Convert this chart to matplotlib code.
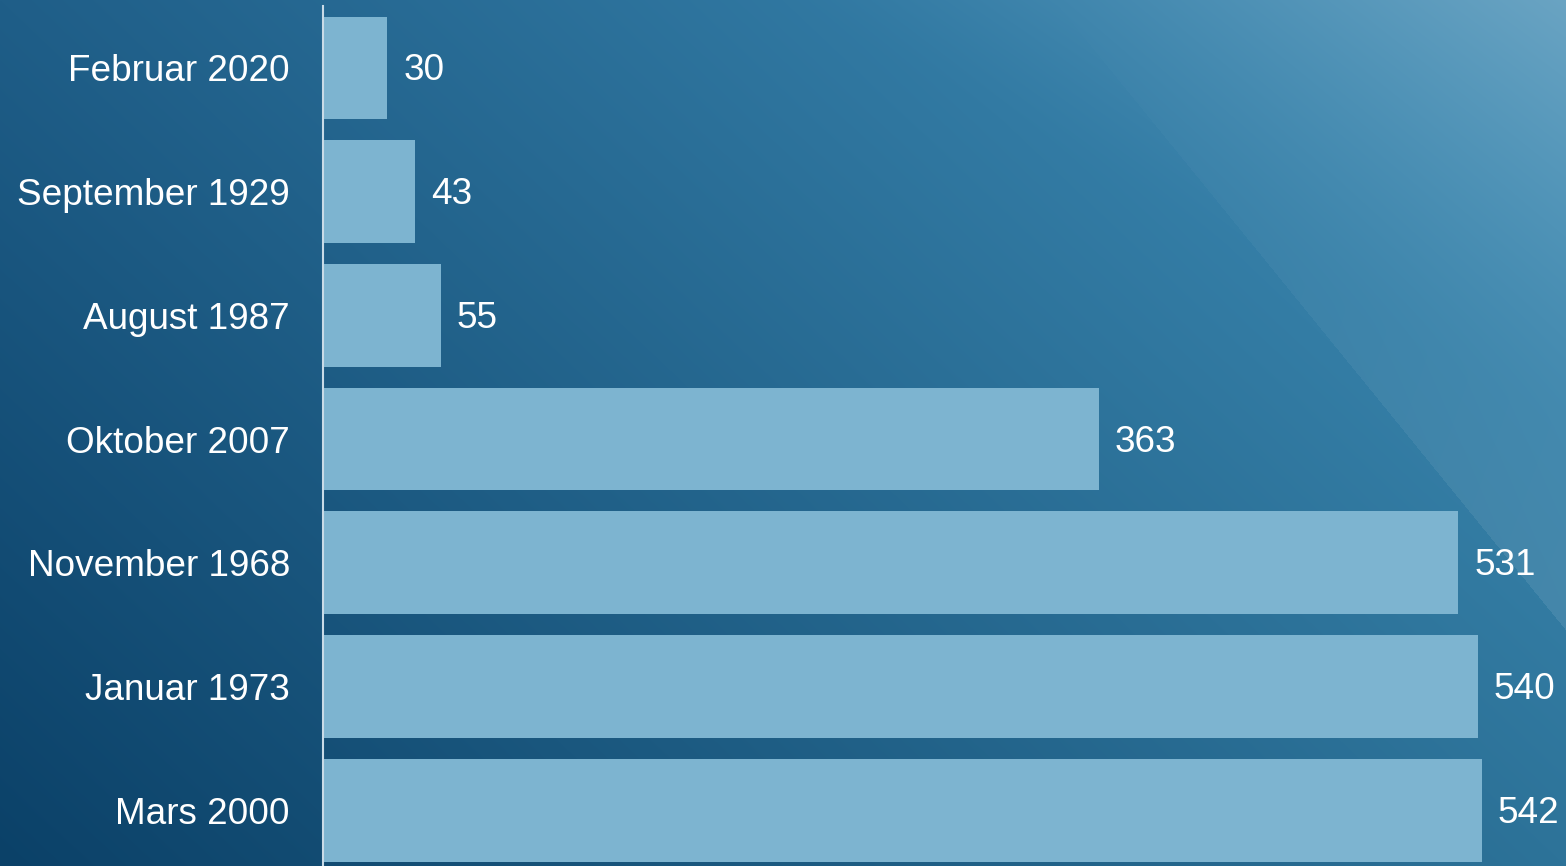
import numpy as np
import matplotlib
matplotlib.use("Agg")
import matplotlib.pyplot as plt

categories = ["Februar 2020", "September 1929", "August 1987", "Oktober 2007",
              "November 1968", "Januar 1973", "Mars 2000"]
values = [30, 43, 55, 363, 531, 540, 542]

W, H = 1566, 866
DPI = 100
plt.rcParams['font.family'] = ['Liberation Sans', 'DejaVu Sans']

fig = plt.figure(figsize=(W / DPI, H / DPI), dpi=DPI)

# background gradient
xx, yy = np.meshgrid(np.arange(W), np.arange(H))
u = xx / (W - 1)
v = yy / (H - 1)
BL = np.array([11, 65, 104], float)
TL = np.array([31, 94, 136], float)
BR = np.array([45, 115, 153], float)
img = (BL[None, None, :]
       + u[..., None] * (BR - BL)[None, None, :]
       + (1 - v)[..., None] * (TL - BL)[None, None, :])
# smooth lightening toward top-right
s = u + (1 - v)
w = 0.48 * np.clip((s - 1.5) / 0.5, 0, None) ** 1.5
LIGHT = np.array([150, 185, 205], float)
img = img * (1 - w[..., None]) + LIGHT[None, None, :] * w[..., None]
# faint wedge in upper right
d = (500 + 1.23 * (xx - 1460)) - yy
alpha = np.where(d > 0, 0.09 * np.clip(yy / 630.0, 0, 1), 0.0)
img = img * (1 - alpha[..., None]) + 255 * alpha[..., None]
img = np.clip(img / 255.0, 0, 1)

bg = fig.add_axes([0, 0, 1, 1], zorder=-1)
bg.imshow(img, extent=(0, 1, 0, 1), aspect='auto', interpolation='bilinear')
bg.set_axis_off()

px = 2.138  # pixels per unit
left = 323
ax = fig.add_axes([left / W, 0, (W - left) / W, 860 / H])
ax.patch.set_alpha(0)
y = np.arange(len(categories))
ax.barh(y, values, height=0.83, color='#7db4d0', edgecolor='none')
ax.set_xlim(0, (W - left) / px)
ax.set_ylim(6.45, -0.5)
ax.set_yticks(y)
ax.set_yticklabels(categories, fontsize=26.6, color='white')
ax.tick_params(axis='y', length=0, pad=23.8)
ax.set_xticks([])
for sp in ['top', 'right', 'bottom']:
    ax.spines[sp].set_visible(False)
ax.spines['left'].set_color('#c9dbe7')
ax.spines['left'].set_linewidth(1.5)

for yi, val in zip(y, values):
    ax.annotate(str(val), xy=(val, yi), xytext=(11.5, -2.2), textcoords='offset points',
                va='center', ha='left', fontsize=26.6, color='white')

fig.savefig('out.png', dpi=DPI)
